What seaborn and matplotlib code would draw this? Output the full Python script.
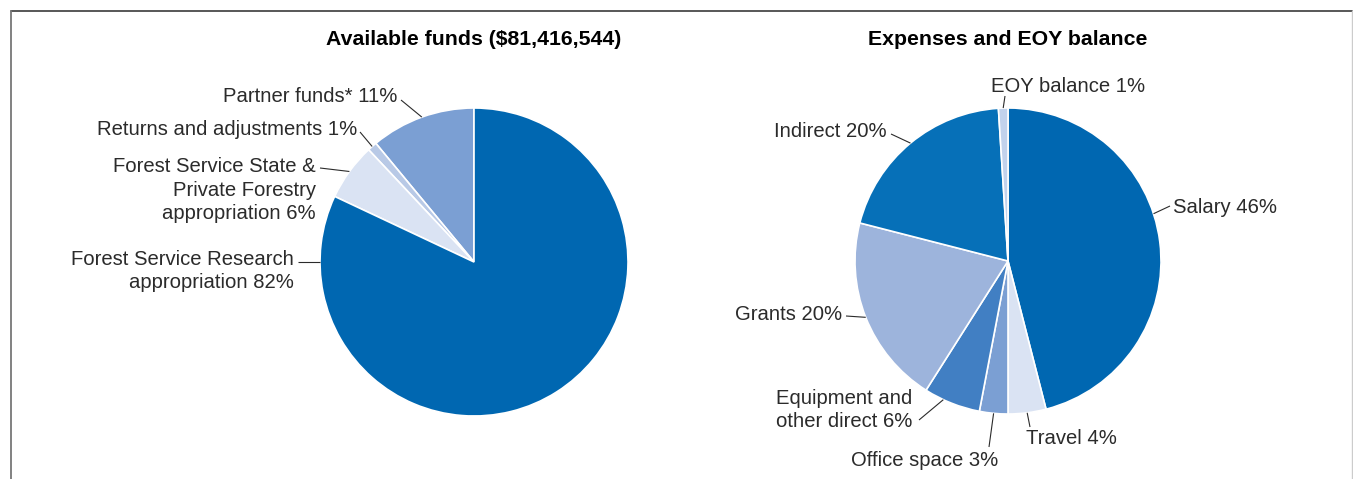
import numpy as np
import matplotlib
matplotlib.use("Agg")
import matplotlib.pyplot as plt
from matplotlib.lines import Line2D
import seaborn as sns

# ---- data -------------------------------------------------------------
fund_title = "Available funds ($81,416,544)"
fund_labels = ["Partner funds*", "Returns and adjustments",
               "Forest Service State &\nPrivate Forestry\nappropriation",
               "Forest Service Research\nappropriation"]
fund_pct = [11, 1, 6, 82]

exp_title = "Expenses and EOY balance"
exp_labels = ["Salary", "Travel", "Office space", "Equipment and\nother direct",
              "Grants", "Indirect", "EOY balance"]
exp_pct = [46, 4, 3, 6, 20, 20, 1]

# ---- styling ----------------------------------------------------------
fund_colors = ["#7b9fd3", "#b8c9e6", "#dae3f3", "#0067b1"]
exp_colors = ["#0067b1", "#dae3f3", "#7b9fd3", "#417fc3", "#9db4dc", "#0670b8", "#c2d2ec"]
TEXT = "#2b2b2b"

sns.set_theme(style="white")
plt.rcParams["font.family"] = ["Liberation Sans", "DejaVu Sans"]

W, H = 1353, 479
fig = plt.figure(figsize=(W / 100, H / 100), dpi=100)
ax = fig.add_axes([0, 0, 1, 1])


def py(y):
    """convert a top-down pixel row into the axes' bottom-up coordinate"""
    return H - y


# label placement: (text x, text y, horizontal alignment, leader start, anchor angle or None)
fund_layout = [
    (397, 96, "right", (401, 100), None),
    (357, 129, "right", (360, 132), None),
    (316, 190, "right", (320, 168), None),
    (294, 271, "right", (298, 262), 180),
]
exp_layout = [
    (1173, 207, "left", (1170, 206), 18),
    (1026, 438, "left", (1030, 427), None),
    (851, 460, "left", (989, 447), None),
    (912, 410, "right", (919, 420), 245),
    (842, 315, "right", (846, 316), None),
    (887, 131, "right", (891, 134), None),
    (991, 86, "left", (1005, 96), None),
]


def draw_pie(values, labels, colors, layout, center, radius, counterclock, title):
    cx, cy = center[0], py(center[1])
    wedges, _ = ax.pie(values, colors=colors, startangle=90, counterclock=counterclock,
                       center=(cx, cy), radius=radius,
                       wedgeprops=dict(edgecolor="white", linewidth=1.2))
    for w, lab, pct, (tx, ty, ha, start, ang) in zip(wedges, labels, values, layout):
        if ang is None:
            ang = (w.theta1 + w.theta2) / 2
        a = np.deg2rad(ang)
        ex, ey = cx + radius * np.cos(a), cy + radius * np.sin(a)
        ax.plot([start[0], ex], [py(start[1]), ey], color=TEXT, lw=0.8,
                solid_capstyle="butt", zorder=3)
        ax.text(tx, py(ty), f"{lab} {pct}%", ha=ha, va="center", multialignment=ha,
                fontsize=14.6, color=TEXT, linespacing=1.32)
    ax.text(cx, py(39), title, ha="center", va="center", fontsize=15.3,
            fontweight="bold", color="black")


draw_pie(fund_pct, fund_labels, fund_colors, fund_layout, (474, 262), 154, True, fund_title)
draw_pie(exp_pct, exp_labels, exp_colors, exp_layout, (1008, 261), 153, False, exp_title)

ax.set_xlim(0, W)
ax.set_ylim(0, H)
ax.set_aspect("auto")
ax.axis("off")

# panel frame
fig.add_artist(Line2D([11 / W, 1352 / W], [py(11) / H] * 2, color="#4a4a4a", lw=1.3))
fig.add_artist(Line2D([11 / W] * 2, [0, py(11) / H], color="#777777", lw=1.3))
fig.add_artist(Line2D([1352 / W] * 2, [0, py(11) / H], color="#cccccc", lw=1.0))

fig.savefig("out.png", dpi=100, facecolor="white")
